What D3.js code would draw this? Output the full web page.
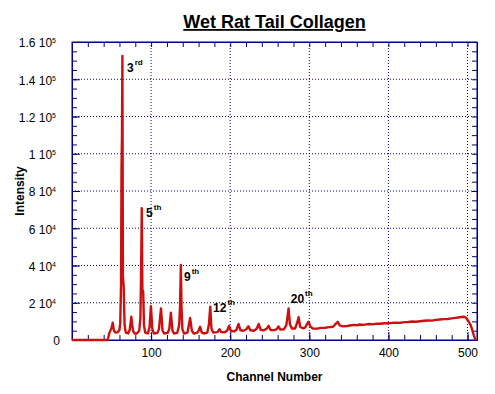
<!DOCTYPE html>
<html>
<head>
<meta charset="utf-8">
<script src="https://cdn.jsdelivr.net/npm/d3@7"></script>
<style>
	body { margin: 0; background: #fff; }
	svg { display: block; font-family: "Liberation Sans", Arial, sans-serif; }
</style>
</head>
<body>
<div id="chart"></div>
<script>
//=======================================================================================================================
//Data
//=======================================================================================================================
var channels = [0, 45, 46, 47, 48, 50, 51.5, 53, 55, 58, 60, 61, 62, 62.6, 63.2, 63.7, 64.4, 65.3, 66.5, 68,
	71, 73, 75, 77, 79, 82, 85, 86.5, 87.2, 88.2, 89, 90, 91, 92.5, 96, 98, 99.8, 101.5, 103.5,
	108, 110, 112.5, 114.5, 116.5, 121, 123, 125, 127, 129, 133, 135.5, 136.6, 137.6, 138.5, 139.5, 141.5,
	146, 149.3, 151.5, 154, 158, 160, 162, 164, 167, 171, 173, 174.8, 176.3, 178.5, 184, 186.5, 188.5,
	193, 196, 198.5, 201, 205, 208, 210.5, 213, 217, 220.5, 223, 225.5, 230, 233.5, 236, 238.5,
	242, 246, 248.5, 251, 256, 259, 261, 263.5, 268, 271, 273.8, 275.5, 278, 282, 284.5, 286.5, 288.5,
	292, 295, 297, 299, 301, 304, 310, 315, 320, 325, 330, 333, 336, 338.5, 342, 348, 353, 357, 360,
	364, 368, 372, 376, 380, 385, 390, 395, 400, 405, 410, 415, 420, 425, 430, 435, 440, 445, 450,
	455, 460, 465, 470, 475, 480, 485, 490, 495, 498, 501.5, 504, 506, 508, 510];
var intensity = [0, 0, 1500, 3500, 4500, 6500, 9300, 5000, 4000, 4200, 5500, 9000, 30000, 92000, 110000, 152500, 34000, 29000, 8000, 4000,
	3500, 5500, 12500, 5000, 3500, 3500, 5000, 12000, 32000, 70700, 27000, 26000, 8000, 4000, 3500, 7000, 18200, 6000, 3500,
	3800, 6000, 17000, 5000, 3500, 3800, 6000, 14700, 5000, 3500, 3800, 8000, 18000, 40300, 17000, 6000, 3500,
	4000, 11800, 5000, 3500, 3800, 5000, 7100, 4000, 3500, 4000, 8000, 17900, 6000, 4000, 4200, 5800, 4300,
	4200, 5000, 7500, 4800, 4600, 5500, 8600, 5200, 5000, 5800, 7400, 5200, 5000, 6000, 8600, 5500,
	5200, 6000, 7600, 5400, 5300, 5900, 7300, 5600, 5800, 8000, 17000, 8500, 6200, 6200, 9000, 12200, 7000,
	6300, 6800, 8500, 9800, 7500, 6200, 6100, 6500, 6600, 6900, 7100, 8500, 9800, 7800, 7300, 7500, 7900, 8100, 7900,
	8300, 8100, 8400, 8600, 8400, 8800, 8700, 9000, 9000, 9200, 9300, 9200, 9600, 9700, 9900, 9800, 10100, 10300, 10500,
	10400, 10800, 11000, 11200, 11300, 11600, 11900, 12200, 12500, 12000, 9800, 8000, 5400, 2500, 0];

var xLabelTicks = [100, 200, 300, 400, 500];
var yLabelTicks = [0, 20000, 40000, 60000, 80000, 100000, 120000, 140000, 160000];

// peak order labels, placed at (channel, intensity) of the text baseline start
var peakOrder = ["3", "5", "9", "12", "20"];
var peakSuffix = ["rd", "th", "th", "th", "th"];
var peakLabelChannel = [69.5, 93.6, 141.6, 178.3, 276.5];
var peakLabelIntensity = [144000, 66000, 31700, 15000, 19900];

//=======================================================================================================================
//Chart
//=======================================================================================================================
var width = 495, height = 394;
var margin = { top: 42, right: 18, bottom: 54, left: 72 };
var navy = "#000080";

var svg = d3.select("#chart").append("svg")
	.attr("width", width)
	.attr("height", height);

var x = d3.scaleLinear()
	.domain([0, 512])
	.range([margin.left, width - margin.right]);

var y = d3.scaleLinear()
	.domain([0, 160000])
	.range([height - margin.bottom, margin.top]);

// dotted grid
var grid = svg.append("g").attr("class", "grid");
grid.selectAll(".vgrid")
	.data(xLabelTicks)
	.enter().append("line")
	.attr("x1", function (d) { return x(d); })
	.attr("x2", function (d) { return x(d); })
	.attr("y1", y(0))
	.attr("y2", y(160000));
grid.selectAll(".hgrid")
	.data(yLabelTicks.slice(1, -1))
	.enter().append("line")
	.attr("x1", x(0))
	.attr("x2", x(512))
	.attr("y1", function (d) { return y(d); })
	.attr("y2", function (d) { return y(d); });
grid.selectAll("line")
	.attr("stroke", navy)
	.attr("stroke-width", 1)
	.attr("stroke-dasharray", "1,2");

// minor ticks on all four sides (inside)
var xMinor = d3.range(20, 512, 20);
var yMinor = d3.range(5000, 160000, 5000);

svg.append("g")
	.attr("transform", "translate(0," + y(0) + ")")
	.call(d3.axisBottom(x).tickValues(xMinor).tickSizeInner(-5).tickSizeOuter(0).tickFormat(""));
svg.append("g")
	.attr("transform", "translate(0," + y(160000) + ")")
	.call(d3.axisTop(x).tickValues(xMinor).tickSizeInner(-5).tickSizeOuter(0).tickFormat(""));
svg.append("g")
	.attr("transform", "translate(" + x(0) + ",0)")
	.call(d3.axisLeft(y).tickValues(yMinor).tickSizeInner(-5).tickSizeOuter(0).tickFormat(""));
svg.append("g")
	.attr("transform", "translate(" + x(512) + ",0)")
	.call(d3.axisRight(y).tickValues(yMinor).tickSizeInner(-5).tickSizeOuter(0).tickFormat(""));

// major ticks with labels
var xAxis = svg.append("g")
	.attr("class", "x axis")
	.attr("transform", "translate(0," + y(0) + ")")
	.call(d3.axisBottom(x).tickValues(xLabelTicks).tickSizeInner(-8).tickSizeOuter(0).tickPadding(8));

var yAxis = svg.append("g")
	.attr("class", "y axis")
	.attr("transform", "translate(" + x(0) + ",0)")
	.call(d3.axisLeft(y).tickValues(yLabelTicks).tickSizeInner(-8).tickSizeOuter(0).tickPadding(12));

svg.selectAll(".domain").attr("stroke", navy);
svg.selectAll(".tick line").attr("stroke", navy);
svg.selectAll(".tick text")
	.attr("fill", "#000")
	.style("font-size", "12px")
	.style("font-family", "'Liberation Sans', Arial, sans-serif");

// y labels like "1.6 10^5"
yAxis.selectAll(".tick text").each(function (d) {
	var t = d3.select(this).text(null).attr("dy", "0.4em");
	if (d === 0) {
		t.attr("x", -12).text("0");
		return;
	}
	var e = Math.floor(Math.log10(d));
	var m = +(d / Math.pow(10, e)).toFixed(1);
	t.attr("x", -16);
	t.append("tspan").text(m + " 10");
	t.append("tspan").attr("dy", -4).style("font-size", "7px").text(e);
});

// frame
svg.append("rect")
	.attr("x", x(0))
	.attr("y", y(160000))
	.attr("width", x(512) - x(0))
	.attr("height", y(0) - y(160000))
	.attr("fill", "none")
	.attr("stroke", navy)
	.attr("stroke-width", 1);

// spectrum line
var line = d3.line()
	.x(function (d, i) { return x(channels[i]); })
	.y(function (d) { return y(d); });

svg.append("path")
	.datum(intensity)
	.attr("d", line)
	.attr("fill", "none")
	.attr("stroke", "#cc1010")
	.attr("stroke-width", 2.4)
	.attr("stroke-linejoin", "round");

// peak order labels
var labels = svg.selectAll(".peak")
	.data(peakOrder)
	.enter().append("text")
	.attr("class", "peak")
	.attr("x", function (d, i) { return x(peakLabelChannel[i]); })
	.attr("y", function (d, i) { return y(peakLabelIntensity[i]); })
	.style("font-size", "12px")
	.style("font-weight", "bold");
labels.append("tspan").text(function (d) { return d; });
labels.append("tspan")
	.attr("dx", 1)
	.attr("dy", -7)
	.style("font-size", "8px")
	.text(function (d, i) { return peakSuffix[i]; });

// title and axis titles
svg.append("text")
	.attr("x", (x(0) + x(512)) / 2)
	.attr("y", 28)
	.attr("text-anchor", "middle")
	.style("font-size", "18px")
	.style("font-weight", "bold")
	.style("text-decoration", "underline")
	.text("Wet Rat Tail Collagen");

svg.append("text")
	.attr("x", (x(0) + x(512)) / 2)
	.attr("y", 381)
	.attr("text-anchor", "middle")
	.style("font-size", "12px")
	.style("font-weight", "bold")
	.text("Channel Number");

svg.append("text")
	.attr("transform", "translate(24," + (y(0) + y(160000)) / 2 + ") rotate(-90)")
	.attr("text-anchor", "middle")
	.style("font-size", "12px")
	.style("font-weight", "bold")
	.text("Intensity");
</script>
</body>
</html>
